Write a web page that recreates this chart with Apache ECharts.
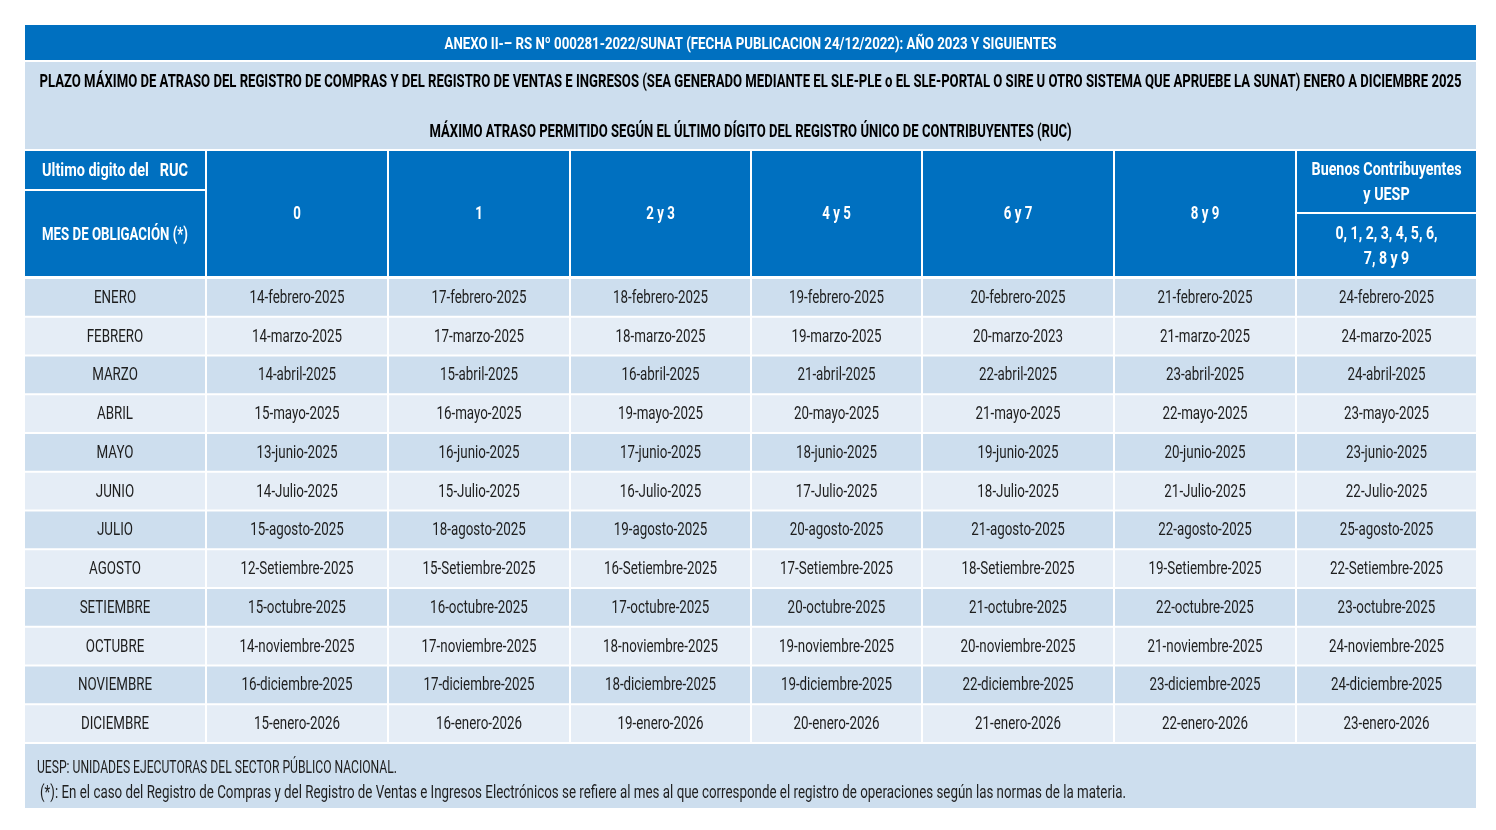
<!DOCTYPE html>
<html>
<head>
<meta charset="utf-8">
<script src="https://cdn.jsdelivr.net/npm/echarts@6/dist/echarts.min.js"></script>
<style>html,body{margin:0;padding:0;background:#fff}#c{width:1496px;height:830px}</style>
</head>
<body>
<div id="c"></div>
<script>
// ---- data ----
const title = 'ANEXO II-– RS Nº 000281-2022/SUNAT (FECHA PUBLICACION 24/12/2022): AÑO 2023 Y SIGUIENTES';
const subtitle1 = 'PLAZO MÁXIMO DE ATRASO DEL REGISTRO DE COMPRAS Y DEL REGISTRO DE VENTAS E INGRESOS (SEA GENERADO MEDIANTE EL SLE-PLE o EL SLE-PORTAL O SIRE U OTRO SISTEMA QUE APRUEBE LA SUNAT) ENERO A DICIEMBRE 2025';
const subtitle2 = 'MÁXIMO ATRASO PERMITIDO SEGÚN EL ÚLTIMO DÍGITO DEL REGISTRO ÚNICO DE CONTRIBUYENTES (RUC)';
const rucHeader = 'Ultimo digito del   RUC';
const monthHeader = 'MES DE OBLIGACIÓN (*)';
const digitGroups = ['0', '1', '2 y 3', '4 y 5', '6 y 7', '8 y 9'];
const buenosHeader = ['Buenos Contribuyentes', 'y UESP'];
const buenosDigits = ['0, 1, 2, 3, 4, 5, 6,', '7, 8 y 9'];
const months = ['ENERO','FEBRERO','MARZO','ABRIL','MAYO','JUNIO','JULIO','AGOSTO','SETIEMBRE','OCTUBRE','NOVIEMBRE','DICIEMBRE'];
const d0 = ['14-febrero-2025','14-marzo-2025','14-abril-2025','15-mayo-2025','13-junio-2025','14-Julio-2025','15-agosto-2025','12-Setiembre-2025','15-octubre-2025','14-noviembre-2025','16-diciembre-2025','15-enero-2026'];
const d1 = ['17-febrero-2025','17-marzo-2025','15-abril-2025','16-mayo-2025','16-junio-2025','15-Julio-2025','18-agosto-2025','15-Setiembre-2025','16-octubre-2025','17-noviembre-2025','17-diciembre-2025','16-enero-2026'];
const d23 = ['18-febrero-2025','18-marzo-2025','16-abril-2025','19-mayo-2025','17-junio-2025','16-Julio-2025','19-agosto-2025','16-Setiembre-2025','17-octubre-2025','18-noviembre-2025','18-diciembre-2025','19-enero-2026'];
const d45 = ['19-febrero-2025','19-marzo-2025','21-abril-2025','20-mayo-2025','18-junio-2025','17-Julio-2025','20-agosto-2025','17-Setiembre-2025','20-octubre-2025','19-noviembre-2025','19-diciembre-2025','20-enero-2026'];
const d67 = ['20-febrero-2025','20-marzo-2023','22-abril-2025','21-mayo-2025','19-junio-2025','18-Julio-2025','21-agosto-2025','18-Setiembre-2025','21-octubre-2025','20-noviembre-2025','22-diciembre-2025','21-enero-2026'];
const d89 = ['21-febrero-2025','21-marzo-2025','23-abril-2025','22-mayo-2025','20-junio-2025','21-Julio-2025','22-agosto-2025','19-Setiembre-2025','22-octubre-2025','21-noviembre-2025','23-diciembre-2025','22-enero-2026'];
const dBuenos = ['24-febrero-2025','24-marzo-2025','24-abril-2025','23-mayo-2025','23-junio-2025','22-Julio-2025','25-agosto-2025','22-Setiembre-2025','23-octubre-2025','24-noviembre-2025','24-diciembre-2025','23-enero-2026'];
const footer1 = 'UESP: UNIDADES EJECUTORAS DEL SECTOR PÚBLICO NACIONAL.';
const footer2 = '(*): En el caso del Registro de Compras y del Registro de Ventas e Ingresos Electrónicos se refiere al mes al que corresponde el registro de operaciones según las normas de la materia.';

// ---- layout / style ----
const FAMILY = 'Roboto, "Noto Sans", sans-serif';
const DARK = '#0070c0', LIGHT = '#cddeee', LIGHTER = '#e5edf6', INK = '#1e1e1e';
const colX = [24, 206, 388, 570, 751, 922, 1114, 1296, 1477];
const rowTop = 278, rowBot = 743;
const G = 1; // half gap between cells

// condensing factors (the original uses a condensed typeface)
const mctx = document.createElement('canvas').getContext('2d');
function measure(text, font) { mctx.font = font; return mctx.measureText(text).width; }
const fontOf = (bold, size) => (bold ? 'bold ' : '') + size + 'px ' + FAMILY;
const K_REG = 95 / measure('14-febrero-2025', fontOf(false, 18));
const K_BOLD = 146 / measure('MES DE OBLIGACIÓN (*)', fontOf(true, 18));

const cells = [];
function cell(x0, y0, x1, y1, fill, text, o) {
  cells.push(Object.assign({x0, y0, x1, y1, fill, text}, o || {}));
}
// title + subtitle
cell(24, 24, 1477, 61, DARK, title, {color:'#fff', bold:true, size:17, dy:2, fit:612});
cell(24, 61, 1477, 150, LIGHT, '', {});
cell(24, 61, 1477, 105, LIGHT, subtitle1, {color:'#000', bold:true, size:17.5, fit:1422, noRect:true});
cell(24, 112, 1477, 152, LIGHT, subtitle2, {color:'#000', bold:true, size:17.5, dy:1, fit:642, noRect:true});
// header
cell(colX[0], 150, colX[1], 190, DARK, rucHeader, {color:'#fff', bold:true, size:18, dy:1, fit:146});
cell(colX[0], 190, colX[1], 277, DARK, monthHeader, {color:'#fff', bold:true, size:18, dy:2});
digitGroups.forEach((g, i) => cell(colX[i+1], 150, colX[i+2], 277, DARK, g, {color:'#fff', bold:true, size:18, dy:1}));
cell(colX[7], 150, colX[8], 213, DARK, buenosHeader.join('\n'), {color:'#fff', bold:true, size:18, lh:25, dy:1, fit:150, fitText:buenosHeader[0]});
cell(colX[7], 213, colX[8], 277, DARK, buenosDigits.join('\n'), {color:'#fff', bold:true, size:18, lh:25, dy:2, fit:102, fitText:buenosDigits[0]});
// body
const cols = [months, d0, d1, d23, d45, d67, d89, dBuenos];
const rh = (rowBot - rowTop) / months.length;
months.forEach((m, r) => {
  const y0 = rowTop + r * rh, y1 = y0 + rh;
  cols.forEach((arr, c) => cell(colX[c], y0, colX[c+1], y1, r % 2 === 0 ? LIGHT : LIGHTER, arr[r], {color:INK, size:18, dy:1}));
});
// footer
cell(24, 743, 1477, 809, LIGHT, '', {});
cell(24, 756, 1477, 780, LIGHT, footer1, {color:INK, size:18, left:37, fit:360, noRect:true});
cell(24, 781, 1477, 805, LIGHT, footer2, {color:INK, size:18, left:40, fit:1086, noRect:true});

const chart = echarts.init(document.getElementById('c'), null, {renderer:'canvas'});
chart.setOption({
  backgroundColor: '#fff',
  animation: false,
  grid: {left:0, right:0, top:0, bottom:0},
  xAxis: {type:'value', min:0, max:1496, show:false},
  yAxis: {type:'value', min:0, max:830, inverse:true, show:false},
  series: [{
    type: 'custom',
    coordinateSystem: 'cartesian2d',
    encode: {x:[0,2], y:[1,3]},
    data: cells.map(c => [c.x0, c.y0, c.x1, c.y1]),
    renderItem(params, api) {
      const c = cells[params.dataIndex];
      const p0 = api.coord([api.value(0), api.value(1)]);
      const p1 = api.coord([api.value(2), api.value(3)]);
      const children = [];
      if (!c.noRect) {
        children.push({type:'rect', shape:{x:p0[0]+G, y:p0[1]+G, width:p1[0]-p0[0]-2*G, height:p1[1]-p0[1]-2*G}, style:{fill:c.fill}});
      }
      if (c.text) {
        const isLeft = c.left != null;
        const font = fontOf(c.bold, c.size);
        let k = c.bold ? K_BOLD : K_REG;
        if (c.fit) k = c.fit / measure(c.fitText || c.text, font);
        children.push({type:'text', x: isLeft ? api.coord([c.left, 0])[0] : (p0[0]+p1[0])/2, y:(p0[1]+p1[1])/2 + (c.dy||0),
          scaleX: k,
          style:{text:c.text, fill:c.color, font:font,
            align: isLeft ? 'left' : 'center', verticalAlign:'middle', lineHeight:c.lh || c.size*1.3}});
      }
      return {type:'group', children};
    }
  }]
});
</script>
</body>
</html>
